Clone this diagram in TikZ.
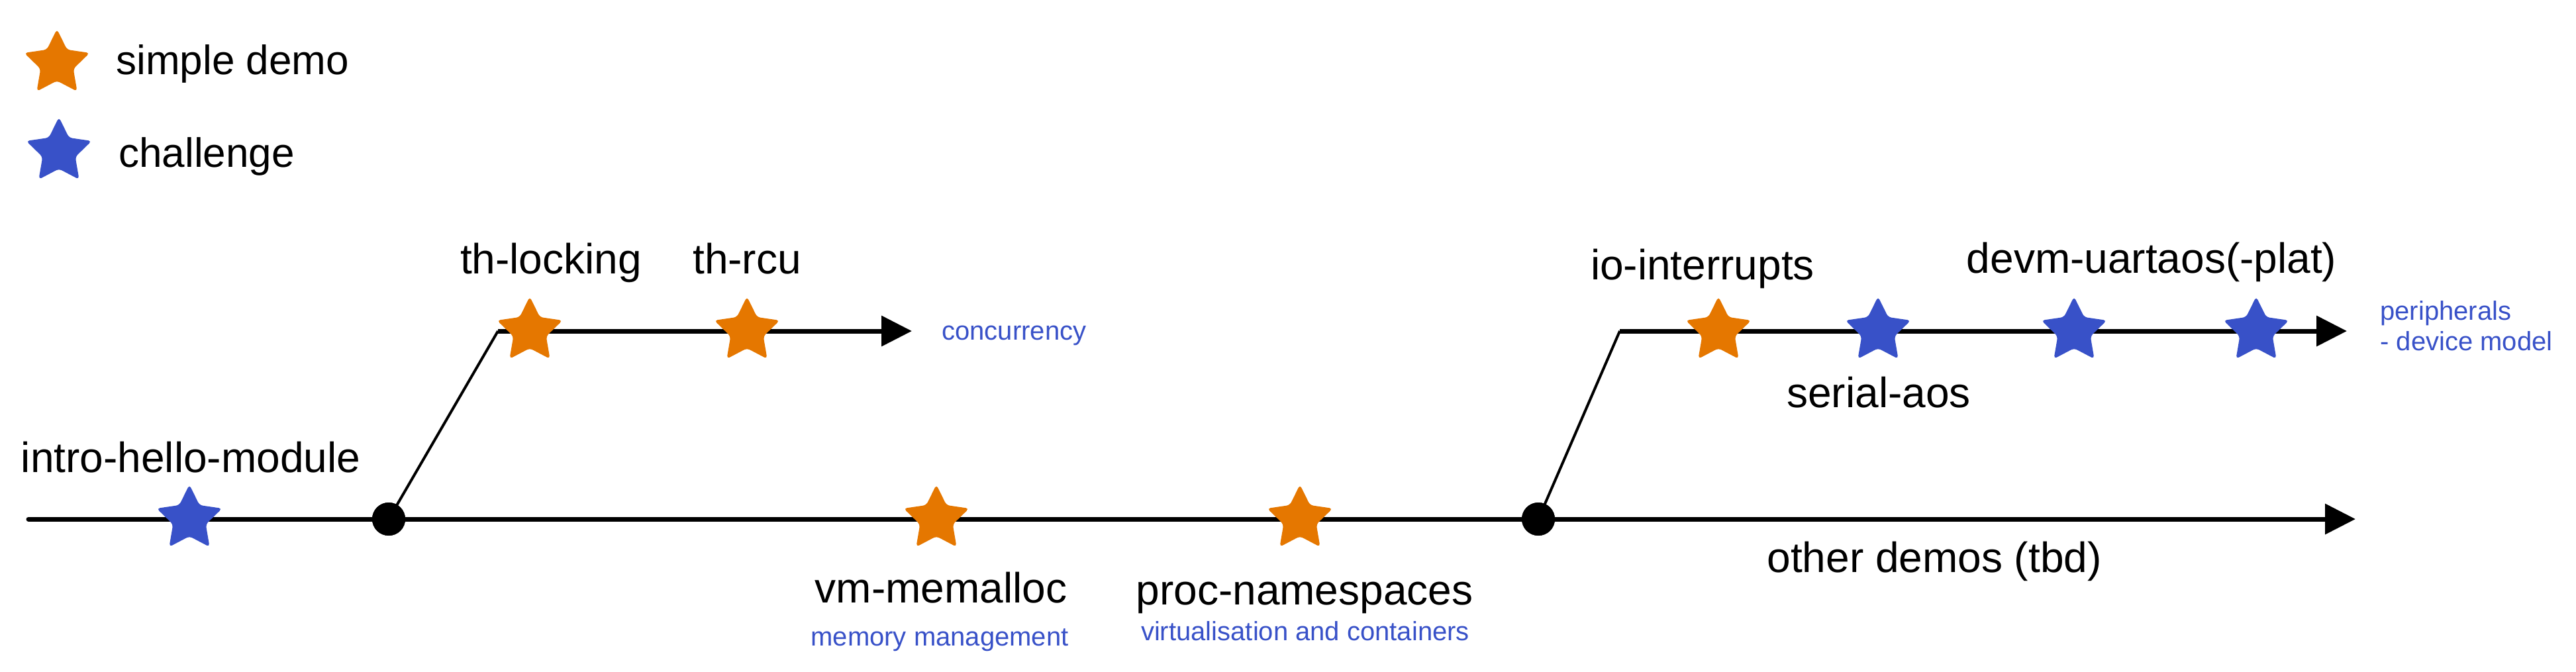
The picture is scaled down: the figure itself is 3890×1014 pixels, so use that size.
\documentclass[tikz,border=0pt]{standalone}
\usepackage{fontspec}
\setmainfont{Liberation Sans}
\usetikzlibrary{shapes.geometric,arrows.meta}
\definecolor{demoorange}{HTML}{E57700}
\definecolor{chalblue}{HTML}{3851C8}
\tikzset{
  starbase/.style={star, star points=5, star point ratio=2.0, minimum size=52pt, inner sep=0pt, draw=none, rounded corners=2.5pt},
  simplestar/.style={starbase, fill=demoorange},
  chalstar/.style={starbase, fill=chalblue},
  junction/.style={circle, fill=black, inner sep=0pt, minimum size=25pt},
  trackline/.style={line width=3.5pt, line cap=round},
  branchline/.style={line width=2pt},
  tracktip/.style={-{Triangle[length=23pt,width=22.5pt]}},
  demolabel/.style={inner sep=0pt, anchor=base, font=\fontsize{32pt}{38pt}\selectfont},
  legendlabel/.style={inner sep=0pt, anchor=base west, font=\fontsize{31pt}{37pt}\selectfont},
  topiclabel/.style={inner sep=0pt, text=chalblue, font=\fontsize{20pt}{24pt}\selectfont},
}
\begin{document}
\begin{tikzpicture}[x=0.5pt,y=-0.5pt]
\useasboundingbox (0,0) rectangle (3890,1014);
% coordinates
\coordinate (start) at (43,784);
\coordinate (mainend) at (3557,784);
\coordinate (c1) at (752,500);
\coordinate (e1) at (1377,500);
\coordinate (c2) at (2446,500);
\coordinate (e2) at (3544,500);
\node[junction] (dot1) at (587,784) {};
\node[junction] (dot2) at (2323,784) {};
% lines
\draw[trackline, tracktip] (start) -- (mainend);
\draw[branchline] (dot1.center) -- (c1);
\draw[trackline, line cap=butt, tracktip] (c1) -- (e1);
\draw[branchline] (dot2.center) -- (c2);
\draw[trackline, line cap=butt, tracktip] (c2) -- (e2);
% redraw dots on top
\node[junction] at (dot1.center) {};
\node[junction] at (dot2.center) {};
% stars
\node[chalstar] (sintro) at (286,784) {};
\node[simplestar] (slock) at (800,500) {};
\node[simplestar] (srcu) at (1128,500) {};
\node[simplestar] (svm) at (1414,784) {};
\node[simplestar] (sproc) at (1963,784) {};
\node[simplestar] (sio) at (2595,500) {};
\node[chalstar] (sserial) at (2836,500) {};
\node[chalstar] (sdevma) at (3132,500) {};
\node[chalstar] (sdevmb) at (3407,500) {};
% labels
\node[demolabel] (lintro) at (288,713) {intro-hello-module};
\node[demolabel] (llock) at (832,413) {th-locking};
\node[demolabel] (lrcu) at (1128,413) {th-rcu};
\node[topiclabel, anchor=base west] (tconc) at (1422,513) {concurrency};
\node[demolabel] (lvm) at (1421,910) {vm-memalloc};
\node[topiclabel, anchor=base] (tmem) at (1419,975) {memory management};
\node[demolabel] (lproc) at (1970,913) {proc-namespaces};
\node[topiclabel, anchor=base] (tvirt) at (1971,967) {virtualisation and containers};
\node[demolabel] (lio) at (2571,422) {io-interrupts};
\node[demolabel] (ldevm) at (3249,412) {devm-uartaos(-plat)};
\node[demolabel] (lserial) at (2837,615) {serial-aos};
\node[topiclabel, anchor=base west] (tperi) at (3594,483) {peripherals};
\node[topiclabel, anchor=base west] (tdev) at (3594,529) {- device model};
\node[demolabel] (lother) at (2921,864) {other demos (tbd)};
% legend
\node[simplestar] (legs) at (86,96) {};
\node[chalstar] (legc) at (89,229) {};
\node[legendlabel] (legst) at (175,112) {simple demo};
\node[legendlabel] (legct) at (179,252) {challenge};
\end{tikzpicture}
\end{document}
